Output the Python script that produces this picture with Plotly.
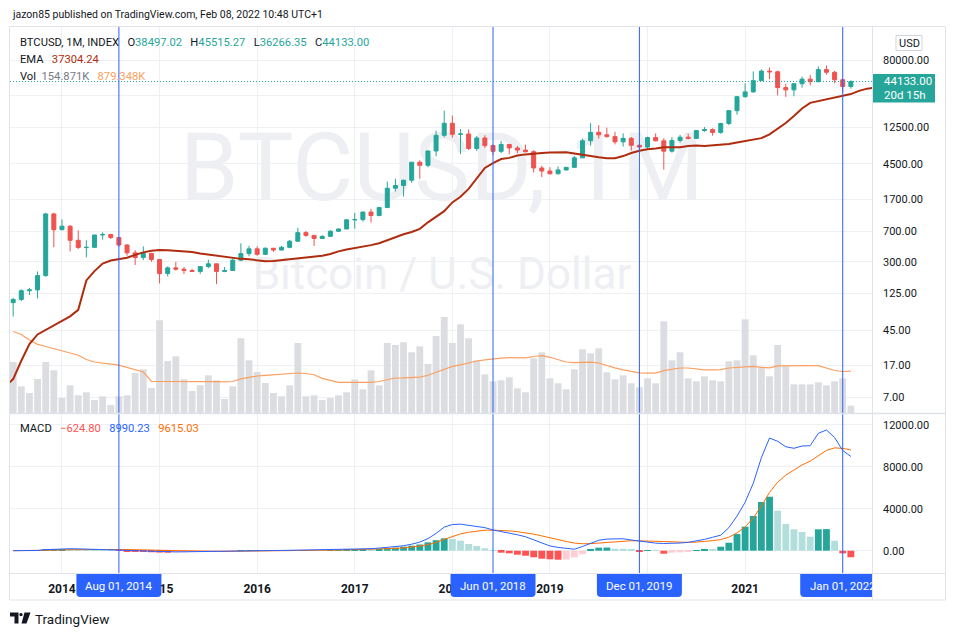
import math
import plotly.graph_objects as go

# ---------------------------------------------------------------- data
FIRST_MONTH = (2013, 7)          # first visible monthly candle
N_BARS = 104
month_labels = []
_y, _m = FIRST_MONTH
for _ in range(N_BARS):
    month_labels.append(f"{_y}-{_m:02d}")
    _m += 1
    if _m > 12:
        _m, _y = 1, _y + 1

opens = [
    97, 106, 135, 138, 205, 1130,
    730, 805, 545, 445, 448, 630, 640, 587, 478, 385, 338, 378,
    320, 217, 254, 245, 236, 230, 263, 284, 230, 236, 314, 377,
    430, 369, 437, 416, 448, 531, 673, 624, 573, 608, 700, 745,
    960, 965, 1190, 1080, 1348, 2300, 2480, 2870, 4730, 4340, 6450, 9950,
    13860, 10220, 10320, 6920, 9240, 7490, 6390, 7730, 7010, 6620, 6320, 4030,
    3700, 3430, 3820, 4100, 5330, 8570, 10800, 10090, 9600, 8300, 9150, 7550,
    7190, 9350, 8540, 6420, 8630, 9450, 9140, 11350, 11650, 10780, 13800, 19700,
    28990, 33100, 45200, 58800, 57700, 37300, 35000, 41500, 47100, 43800, 61300, 57000,
    46300, 38497.02,
]
highs = [
    111, 140, 146, 230, 1165, 1165,
    970, 830, 715, 545, 635, 680, 650, 600, 490, 415, 460, 385,
    325, 265, 300, 260, 248, 268, 318, 285, 260, 330, 500, 467,
    462, 448, 440, 467, 550, 770, 705, 627, 623, 720, 755, 980,
    1160, 1200, 1300, 1350, 2770, 2980, 2920, 4750, 4980, 6470, 11300, 19700,
    17200, 11800, 11700, 9800, 9970, 7760, 8500, 7760, 7410, 7680, 6590, 4290,
    4110, 4200, 4110, 5600, 9100, 13900, 13200, 12300, 10950, 10500, 9500, 7750,
    9580, 10500, 9180, 9450, 10080, 10400, 11450, 12480, 12080, 14100, 19900, 29300,
    41950, 58350, 61800, 64900, 59600, 41300, 42400, 50500, 52900, 67000, 69000, 59100,
    47900, 45515.27,
]
lows = [
    66, 101, 120, 109, 198, 450,
    720, 400, 430, 340, 440, 555, 565, 455, 355, 275, 315, 300,
    165, 200, 235, 214, 226, 215, 252, 162, 225, 235, 305, 350,
    355, 364, 395, 412, 436, 525, 600, 465, 568, 605, 685, 740,
    750, 915, 890, 1060, 1340, 2100, 1830, 2670, 2980, 4110, 5560, 9400,
    9300, 5900, 6600, 6430, 7030, 5750, 6070, 5880, 6100, 6200, 3550, 3130,
    3380, 3380, 3730, 4080, 5320, 7450, 9100, 9350, 7730, 7300, 6550, 6430,
    6870, 8450, 3850, 6160, 8100, 8900, 8970, 10980, 9850, 10380, 13200, 17600,
    28150, 32300, 45000, 47000, 30000, 28800, 29300, 37300, 39600, 43300, 53300, 42000,
    32950, 36266.35,
]
closes = [
    106, 135, 138, 205, 1130, 730,
    805, 545, 445, 448, 630, 640, 587, 478, 385, 338, 378, 320,
    217, 254, 245, 236, 230, 263, 284, 230, 236, 314, 377, 430,
    369, 437, 416, 448, 531, 673, 624, 573, 608, 700, 745, 960,
    965, 1190, 1080, 1348, 2300, 2480, 2870, 4730, 4340, 6450, 9950, 13860,
    10220, 10320, 6920, 9240, 7490, 6390, 7730, 7010, 6620, 6320, 4030, 3700,
    3430, 3820, 4100, 5330, 8570, 10800, 10090, 9600, 8300, 9150, 7550, 7190,
    9350, 8540, 6420, 8630, 9450, 9140, 11350, 11650, 10780, 13800, 19700, 28990,
    33100, 45200, 58800, 57700, 37300, 35000, 41500, 47100, 43800, 61300, 57000, 46300,
    38497.02, 44133.00,
]
# volume in thousands
volume_k = [
    1071, 561, 420, 714, 1071, 897,
    315, 582, 372, 435, 273, 351, 168, 351, 372, 840, 918, 525,
    1947, 1092, 1191, 708, 462, 582, 792, 687, 294, 561, 1569, 1107,
    861, 630, 420, 351, 582, 1470, 351, 372, 273, 315, 372, 435,
    708, 498, 897, 582, 1470, 1428, 1485, 1275, 1401, 1029, 1617, 2016,
    1470, 1863, 1569, 1107, 813, 666, 687, 750, 519, 435, 1149, 1275,
    729, 624, 498, 918, 1338, 1254, 1359, 855, 708, 792, 624, 540,
    729, 624, 1926, 1107, 1275, 729, 666, 771, 687, 666, 1086, 1107,
    1968, 1212, 960, 771, 1428, 981, 603, 603, 603, 645, 582, 666,
    729, 154.871,
]
volume_ma_k = [
    1712, 1649, 1533, 1441, 1397, 1355,
    1313, 1260, 1212, 1124, 1071, 1042, 1025, 1004, 956, 914, 861, 666,
    666, 666, 668, 670, 672, 668, 662, 657, 653, 662, 718, 752,
    777, 790, 804, 809, 823, 840, 830, 804, 727, 685, 645, 645,
    645, 645, 645, 662, 704, 735, 737, 741, 752, 792, 851, 920,
    979, 1010, 1052, 1092, 1117, 1142, 1153, 1163, 1161, 1157, 1187, 1203,
    1170, 1126, 1071, 1058, 1063, 1069, 1050, 995, 949, 907, 872, 842,
    836, 838, 890, 918, 945, 945, 924, 905, 907, 911, 945, 960,
    972, 979, 960, 949, 991, 995, 995, 995, 995, 995, 945, 893,
    872, 879.348,
]
# EMA(20) of monthly closes, Jan 2013 .. Feb 2022, drawn with an offset of 5 bars
EMA_FIRST_MONTH = (2013, 1)
EMA_OFFSET = 5
ema20 = [
    9.5, 11.7, 19.4, 30.8, 40.2, 45.6, 51.3, 59.3, 66.3, 79.5, 179.5, 231.9,
    286, 310.7, 323.5, 335.4, 363.4, 389.7, 408.5, 415.1, 412.2, 405.1, 402.5, 394.6,
    377.7, 365.9, 354.4, 343.1, 332.3, 325.7, 321.7, 313, 305.7, 306.5, 313.2, 324.3,
    328.6, 338.9, 346.2, 355.9, 372.6, 401.2, 422.4, 436.7, 453, 476.5, 502.1, 545.7,
    585.6, 643.1, 684.7, 747.8, 895.6, 1046.4, 1220, 1554, 1819, 2260, 2992, 4027,
    4617, 5160, 5328, 5700, 5871, 5920, 6092, 6180, 6222, 6231, 6022, 5801,
    5575, 5408, 5283, 5288, 5600, 6095, 6476, 6773, 6919, 7131, 7171, 7173,
    7380, 7491, 7389, 7507, 7692, 7830, 8165, 8497, 8714, 9198, 10198, 11987,
    13997, 16968, 20950, 24449, 25672, 26560, 27982, 29802, 31135, 34007, 36196, 37158,
    37304.24, 37917,
]
ema_legend_value = 37304.24

macd_line = [
    0, 5, 10, 20, 100, 150,
    180, 185, 175, 160, 150, 140, 120, 90, 50, 10, -30, -60,
    -100, -110, -110, -105, -100, -90, -80, -70, -60, -45, -25, -10,
    5, 10, 15, 25, 35, 60, 70, 75, 80, 90, 100, 130,
    150, 180, 190, 250, 310, 380, 470, 620, 820, 1150, 1650, 2250,
    2500, 2530, 2420, 2380, 2200, 1980, 1850, 1700, 1520, 1330, 1030, 735,
    450, 315, 230, 140, 400, 720, 1000, 1110, 1150, 1140, 1020, 920,
    800, 720, 690, 700, 730, 800, 920, 1080, 1280, 1480, 2200, 3300,
    4620, 6430, 8880, 10750, 10440, 9920, 9770, 9990, 10020, 11200, 11520, 10800,
    9560, 8990.23,
]
macd_signal = [
    0, 2, 4, 8, 25, 50,
    75, 95, 110, 120, 125, 130, 130, 120, 110, 90, 65, 40,
    10, -15, -35, -50, -60, -65, -68, -68, -65, -60, -55, -45,
    -35, -25, -15, -5, 5, 15, 25, 35, 45, 55, 65, 80,
    95, 110, 125, 150, 182, 222, 272, 342, 438, 580, 794, 1085,
    1368, 1600, 1764, 1887, 1950, 1956, 1935, 1888, 1814, 1717, 1580, 1410,
    1220, 1040, 880, 730, 665, 675, 740, 815, 880, 930, 950, 945,
    920, 880, 842, 814, 797, 798, 822, 874, 955, 1060, 1290, 1690,
    2280, 3110, 4264, 5560, 6536, 7213, 7724, 8177, 8546, 9077, 9566, 9813,
    9762, 9615.03,
]
macd_hist = [
    0, 3, 6, 12, 75, 100,
    105, 90, 65, 40, 25, 12, 5, -20, -50, -80, -120, -150,
    -180, -190, -170, -150, -125, -100, -80, -60, -40, -25, 10, 25,
    35, 30, 25, 20, 25, 40, 45, 40, 35, 45, 60, 90,
    110, 130, 125, 160, 230, 290, 380, 480, 590, 800, 1000, 1180,
    1120, 950, 640, 450, 230, 30, -190, -250, -380, -480, -630, -760,
    -820, -860, -840, -630, -340, 100, 290, 300, 190, 180, 100, -30,
    20, 10, -290, -190, -160, -100, 60, 170, 150, 380, 760, 1590,
    2290, 3310, 4650, 5150, 3820, 2550, 2040, 1785, 1340, 2040, 2060, 950,
    -250, -624.80,
]

year_labels = ["2014", "2015", "2016", "2017", "2018", "2019", "2020", "2021", "2022"]
price_tick_values = [7, 17, 45, 125, 300, 700, 1700, 4500, 12500, 30000, 80000, 200000]
hidden_price_ticks = [30000]          # covered by the last-price label in the reference
macd_tick_values = [0, 4000, 8000, 12000]
marked_dates = [("2014-08", "Aug 01, 2014"), ("2018-06", "Jun 01, 2018"),
                ("2019-12", "Dec 01, 2019"), ("2022-01", "Jan 01, 2022")]
countdown_text = "20d 15h"
header_text = "jazon85 published on TradingView.com, Feb 08, 2022 10:48 UTC+1"
symbol_text = "BTCUSD, 1M, INDEX"

# ---------------------------------------------------------------- layout constants
FIG_W, FIG_H = 955, 636
PL, PR, PT, PB = 10, 872, 27, 573      # plot area in pixels
MAIN_BOTTOM, MACD_TOP = 413, 414
X_RANGE = [-0.39, 105.6]
PRICE_LOG_RANGE = [0.6603, 5.2997]
VOL_RANGE = [0, 8106]
MACD_RANGE = [-2128, 13044]

UP, DN = "#26a69a", "#ef5350"
GRID = "#eef0f4"
FRAME = "#e0e3eb"
BLUE = "#2962ff"
TEXT = "#131722"
EMA_COLOR = "#b02c0e"
VOLMA_COLOR = "#fb9f60"
SIG_COLOR = "#ff6d00"
FONT = "Roboto"


def px2x(px):
    return (px - PL) / (PR - PL)


def py2y(py):
    return (PB - py) / (PB - PT)


def pos_of(y, m):
    return (y - FIRST_MONTH[0]) * 12 + (m - FIRST_MONTH[1])


def pos_of_label(lbl):
    y, m = lbl.split("-")
    return pos_of(int(y), int(m))


UNIT_PX = (PR - PL) / (X_RANGE[1] - X_RANGE[0])


def xdata_of_px(px):
    return X_RANGE[0] + (px - PL) / UNIT_PX


def price_to_py(v):
    span = PRICE_LOG_RANGE[1] - PRICE_LOG_RANGE[0]
    return PT + (PRICE_LOG_RANGE[1] - math.log10(v)) / span * (MAIN_BOTTOM - PT)


xs = [pos_of_label(m) for m in month_labels]
ema_x = [pos_of(*EMA_FIRST_MONTH) + i + EMA_OFFSET for i in range(len(ema20))]
year_pos = [pos_of(int(y), 1) for y in year_labels]
marked_months = [m for m, _ in marked_dates]
# year labels fully hidden behind a date box are not drawn
year_text = [("" if f"{y}-01" in marked_months or y == "2020" else y) for y in year_labels]
price_tick_text = ["" if v in hidden_price_ticks else f"{v:.2f}" for v in price_tick_values]

# histogram colours (TradingView rule)
hist_colors = []
prev = None
for v in macd_hist:
    if v >= 0:
        c = UP if (prev is None or v > prev) else "#b2dfdb"
    else:
        c = "#ffcdd2" if (prev is not None and v > prev) else "#ff5252"
    hist_colors.append(c)
    prev = v

fig = go.Figure()

# watermark (under everything)
wm_x = xdata_of_px(442)
fig.add_trace(go.Scatter(
    x=[wm_x, wm_x], y=[(MAIN_BOTTOM - 176) / (MAIN_BOTTOM - PT), (MAIN_BOTTOM - 278) / (MAIN_BOTTOM - PT)],
    mode="text", text=["BTCUSD, 1M", "Bitcoin / U.S. Dollar"],
    textfont=dict(size=[94, 44], color="#eeeff2", family=FONT),
    hoverinfo="skip", xaxis="x", yaxis="y"))

# volume
fig.add_trace(go.Bar(x=xs, y=volume_k, width=0.84, marker=dict(color="#dcdde1", line=dict(width=0)),
                     hoverinfo="skip", xaxis="x", yaxis="y2"))
fig.add_trace(go.Scatter(x=xs, y=volume_ma_k, mode="lines", line=dict(color=VOLMA_COLOR, width=1.2),
                         hoverinfo="skip", xaxis="x", yaxis="y2"))

# price
fig.add_trace(go.Candlestick(
    x=xs, open=opens, high=highs, low=lows, close=closes, whiskerwidth=0,
    increasing=dict(line=dict(color=UP, width=1), fillcolor=UP),
    decreasing=dict(line=dict(color=DN, width=1), fillcolor=DN),
    hoverinfo="skip", xaxis="x", yaxis="y3"))
fig.add_trace(go.Scatter(x=ema_x, y=ema20, mode="lines", line=dict(color=EMA_COLOR, width=2),
                         hoverinfo="skip", xaxis="x", yaxis="y3"))
fig.add_trace(go.Scatter(x=X_RANGE, y=[closes[-1]] * 2, mode="lines",
                         line=dict(color=UP, width=1, dash="1px,2px"), hoverinfo="skip", xaxis="x", yaxis="y3"))

# MACD
fig.add_trace(go.Bar(x=xs, y=macd_hist, width=0.84, marker=dict(color=hist_colors, line=dict(width=0)),
                     hoverinfo="skip", xaxis="x2", yaxis="y4"))
fig.add_trace(go.Scatter(x=xs, y=macd_signal, mode="lines", line=dict(color=SIG_COLOR, width=1),
                         hoverinfo="skip", xaxis="x2", yaxis="y4"))
fig.add_trace(go.Scatter(x=xs, y=macd_line, mode="lines", line=dict(color=BLUE, width=1),
                         hoverinfo="skip", xaxis="x2", yaxis="y4"))

axis_font = dict(family=FONT, size=11, color=TEXT)
fig.update_layout(
    width=FIG_W, height=FIG_H,
    margin=dict(l=PL, r=FIG_W - PR, t=PT, b=FIG_H - PB, pad=0, autoexpand=False),
    paper_bgcolor="white", plot_bgcolor="white",
    showlegend=False, hovermode=False,
    font=dict(family=FONT, size=11, color=TEXT),
    xaxis=dict(domain=[0, 1], range=X_RANGE, anchor="y", tickvals=year_pos, showticklabels=False,
               showgrid=True, gridcolor=GRID, zeroline=False, showline=False, ticks="",
               automargin=False, rangeslider=dict(visible=False)),
    yaxis=dict(domain=[py2y(MAIN_BOTTOM), 1], range=[0, 1], visible=False, fixedrange=True,
               automargin=False),
    yaxis2=dict(overlaying="y", range=VOL_RANGE, visible=False, automargin=False),
    yaxis3=dict(overlaying="y", type="log", range=PRICE_LOG_RANGE, side="right", anchor="x",
                tickvals=price_tick_values, ticktext=price_tick_text,
                showgrid=True, gridcolor=GRID, zeroline=False, showline=False, ticks="",
                ticklabelstandoff=10, tickfont=axis_font, automargin=False),
    xaxis2=dict(domain=[0, 1], range=X_RANGE, anchor="y4", tickvals=year_pos, ticktext=year_text,
                showgrid=True, gridcolor=GRID, zeroline=False, showline=False,
                ticks="outside", ticklen=5, tickcolor="rgba(0,0,0,0)", automargin=False,
                tickfont=dict(family=FONT, size=12, color=TEXT, weight="bold")),
    yaxis4=dict(domain=[0, py2y(MACD_TOP)], range=MACD_RANGE, side="right", anchor="x2",
                tickvals=macd_tick_values, ticktext=[f"{v:.2f}" for v in macd_tick_values],
                showgrid=True, gridcolor=GRID, zeroline=False, showline=False, ticks="",
                ticklabelstandoff=10, tickfont=axis_font, automargin=False),
)

shapes = []
annotations = []


def ppath(points):
    return "M " + " L ".join(f"{px2x(a):.5f},{py2y(b):.5f}" for a, b in points) + " Z"


def rounded_bottom_box(x0, x1, y0, y1, r):
    """path (paper coords) of a box with square top and rounded bottom corners (pixel inputs)"""
    X = px2x
    Y = py2y
    return (f"M {X(x0)},{Y(y0)} L {X(x1)},{Y(y0)} L {X(x1)},{Y(y1 - r)} "
            f"Q {X(x1)},{Y(y1)} {X(x1 - r)},{Y(y1)} L {X(x0 + r)},{Y(y1)} "
            f"Q {X(x0)},{Y(y1)} {X(x0)},{Y(y1 - r)} Z")


# marked dates: vertical lines + date boxes on the time axis
for lbl, txt in marked_dates:
    p = pos_of_label(lbl)
    cx = PL + (p - X_RANGE[0]) * UNIT_PX
    shapes.append(dict(type="line", xref="x", yref="paper", x0=p, x1=p, y0=0, y1=1,
                       line=dict(color=BLUE, width=1), layer="above"))
    shapes.append(dict(type="path", xref="paper", yref="paper",
                       path=rounded_bottom_box(cx - 42.5, cx + 42.5, 574, 597, 4),
                       fillcolor=BLUE, line=dict(width=0), layer="above"))
    annotations.append(dict(xref="x", yref="paper", x=p, y=py2y(586), text=txt, showarrow=False,
                            xanchor="center", yanchor="middle",
                            font=dict(family=FONT, size=11.5, color="white")))

# white cover: clip everything right of the plot in the time-axis row (box overflow) and
# the upper half of the clipped top price label
shapes.append(dict(type="rect", xref="paper", yref="paper", x0=px2x(873), x1=px2x(944.5),
                   y0=py2y(599.5), y1=py2y(574), fillcolor="white", line=dict(width=0), layer="above"))
shapes.append(dict(type="rect", xref="paper", yref="paper", x0=px2x(873.5), x1=px2x(944),
                   y0=py2y(26.5), y1=py2y(10), fillcolor="white", line=dict(width=0), layer="above"))

# current price box
ppy = price_to_py(closes[-1])
shapes.append(dict(type="rect", xref="paper", yref="paper", x0=px2x(873), x1=px2x(935),
                   y0=py2y(ppy + 21), y1=py2y(ppy - 7.5), fillcolor=UP, line=dict(width=0), layer="above"))
annotations.append(dict(xref="paper", yref="paper", x=px2x(882), y=py2y(ppy), text=f"{closes[-1]:.2f}",
                        showarrow=False, xanchor="left", yanchor="middle",
                        font=dict(family=FONT, size=11.5, color="white")))
annotations.append(dict(xref="paper", yref="paper", x=px2x(882), y=py2y(ppy + 14), text=countdown_text,
                        showarrow=False, xanchor="left", yanchor="middle",
                        font=dict(family=FONT, size=11.5, color="white")))

# USD box
shapes.append(dict(type="rect", xref="paper", yref="paper", x0=px2x(896), x1=px2x(922),
                   y0=py2y(50.5), y1=py2y(35.5), fillcolor="white", line=dict(color="#d1d4dc", width=1),
                   layer="above"))
annotations.append(dict(xref="paper", yref="paper", x=px2x(909), y=py2y(43), text="USD", showarrow=False,
                        xanchor="center", yanchor="middle", font=dict(family=FONT, size=11, color=TEXT)))

# frame
shapes += [
    dict(type="rect", xref="paper", yref="paper", x0=px2x(9.5), x1=px2x(945.5), y0=py2y(600), y1=py2y(26.5),
         line=dict(color=FRAME, width=1), fillcolor="rgba(0,0,0,0)", layer="above"),
    dict(type="line", xref="paper", yref="paper", x0=px2x(872.5), x1=px2x(872.5), y0=py2y(600), y1=py2y(26.5),
         line=dict(color=FRAME, width=1), layer="above"),
    dict(type="line", xref="paper", yref="paper", x0=px2x(9.5), x1=px2x(945.5), y0=py2y(573.5), y1=py2y(573.5),
         line=dict(color=FRAME, width=1), layer="above"),
    dict(type="line", xref="paper", yref="paper", x0=px2x(9.5), x1=px2x(945.5), y0=py2y(413.5), y1=py2y(413.5),
         line=dict(color=FRAME, width=1.5), layer="above"),
]

# TradingView logo
shapes.append(dict(type="path", xref="paper", yref="paper",
                   path=ppath([(10, 612.5), (18.5, 612.5), (18.5, 623.5), (14.5, 623.5), (14.5, 616.5), (10, 616.5)]),
                   fillcolor=TEXT, line=dict(width=0), layer="above"))
shapes.append(dict(type="circle", xref="paper", yref="paper", x0=px2x(19.3), x1=px2x(22.7),
                   y0=py2y(616.3), y1=py2y(612.9), fillcolor=TEXT, line=dict(width=0), layer="above"))
shapes.append(dict(type="path", xref="paper", yref="paper",
                   path=ppath([(24.5, 612.5), (30.5, 612.5), (26.5, 623.5), (21.5, 623.5)]),
                   fillcolor=TEXT, line=dict(width=0), layer="above"))
annotations.append(dict(xref="paper", yref="paper", x=px2x(32.5), y=py2y(618.5), text="TradingView",
                        showarrow=False, xanchor="left", yanchor="middle",
                        font=dict(family=FONT, size=13.5, color=TEXT)))

# header + legends
SP = "\u00a0"


def span(t, c):
    return f'<span style="color:{c}">{t}</span>'


annotations.append(dict(xref="paper", yref="paper", x=px2x(10), y=py2y(14.5), text=header_text,
                        showarrow=False, xanchor="left", yanchor="middle",
                        font=dict(family=FONT, size=10.5, color=TEXT)))
line1 = (symbol_text + SP * 3 + "O" + span(f"{opens[-1]:.2f}", UP) + SP * 3 + "H" + span(f"{highs[-1]:.2f}", UP)
         + SP * 3 + "L" + span(f"{lows[-1]:.2f}", UP) + SP * 3 + "C" + span(f"{closes[-1]:.2f}", UP))
line2 = "EMA" + SP * 3 + span(f"{ema_legend_value:.2f}", EMA_COLOR)
line3 = ("Vol" + SP * 2 + span(f"{volume_k[-1]:.3f}K", "#787b86") + SP * 3
         + span(f"{volume_ma_k[-1]:.3f}K", VOLMA_COLOR))
macd_leg = ("MACD" + SP * 3 + span(f"{macd_hist[-1]:.2f}".replace("-", "\u2212"), "#ff5252") + SP * 3
            + span(f"{macd_line[-1]:.2f}", BLUE) + SP * 3 + span(f"{macd_signal[-1]:.2f}", SIG_COLOR))
for txt, py in [(line1, 42), (line2, 59.5), (line3, 76), (macd_leg, 428.5)]:
    annotations.append(dict(xref="paper", yref="paper", x=px2x(18), y=py2y(py), text=txt,
                            showarrow=False, xanchor="left", yanchor="middle",
                            font=dict(family=FONT, size=11.2, color=TEXT)))

fig.update_layout(shapes=shapes, annotations=annotations)
fig.write_html("out.html", config={"displayModeBar": False},
               post_script="document.body.style.margin='0';document.body.style.padding='0';"
                           "document.body.style.overflow='hidden';")
